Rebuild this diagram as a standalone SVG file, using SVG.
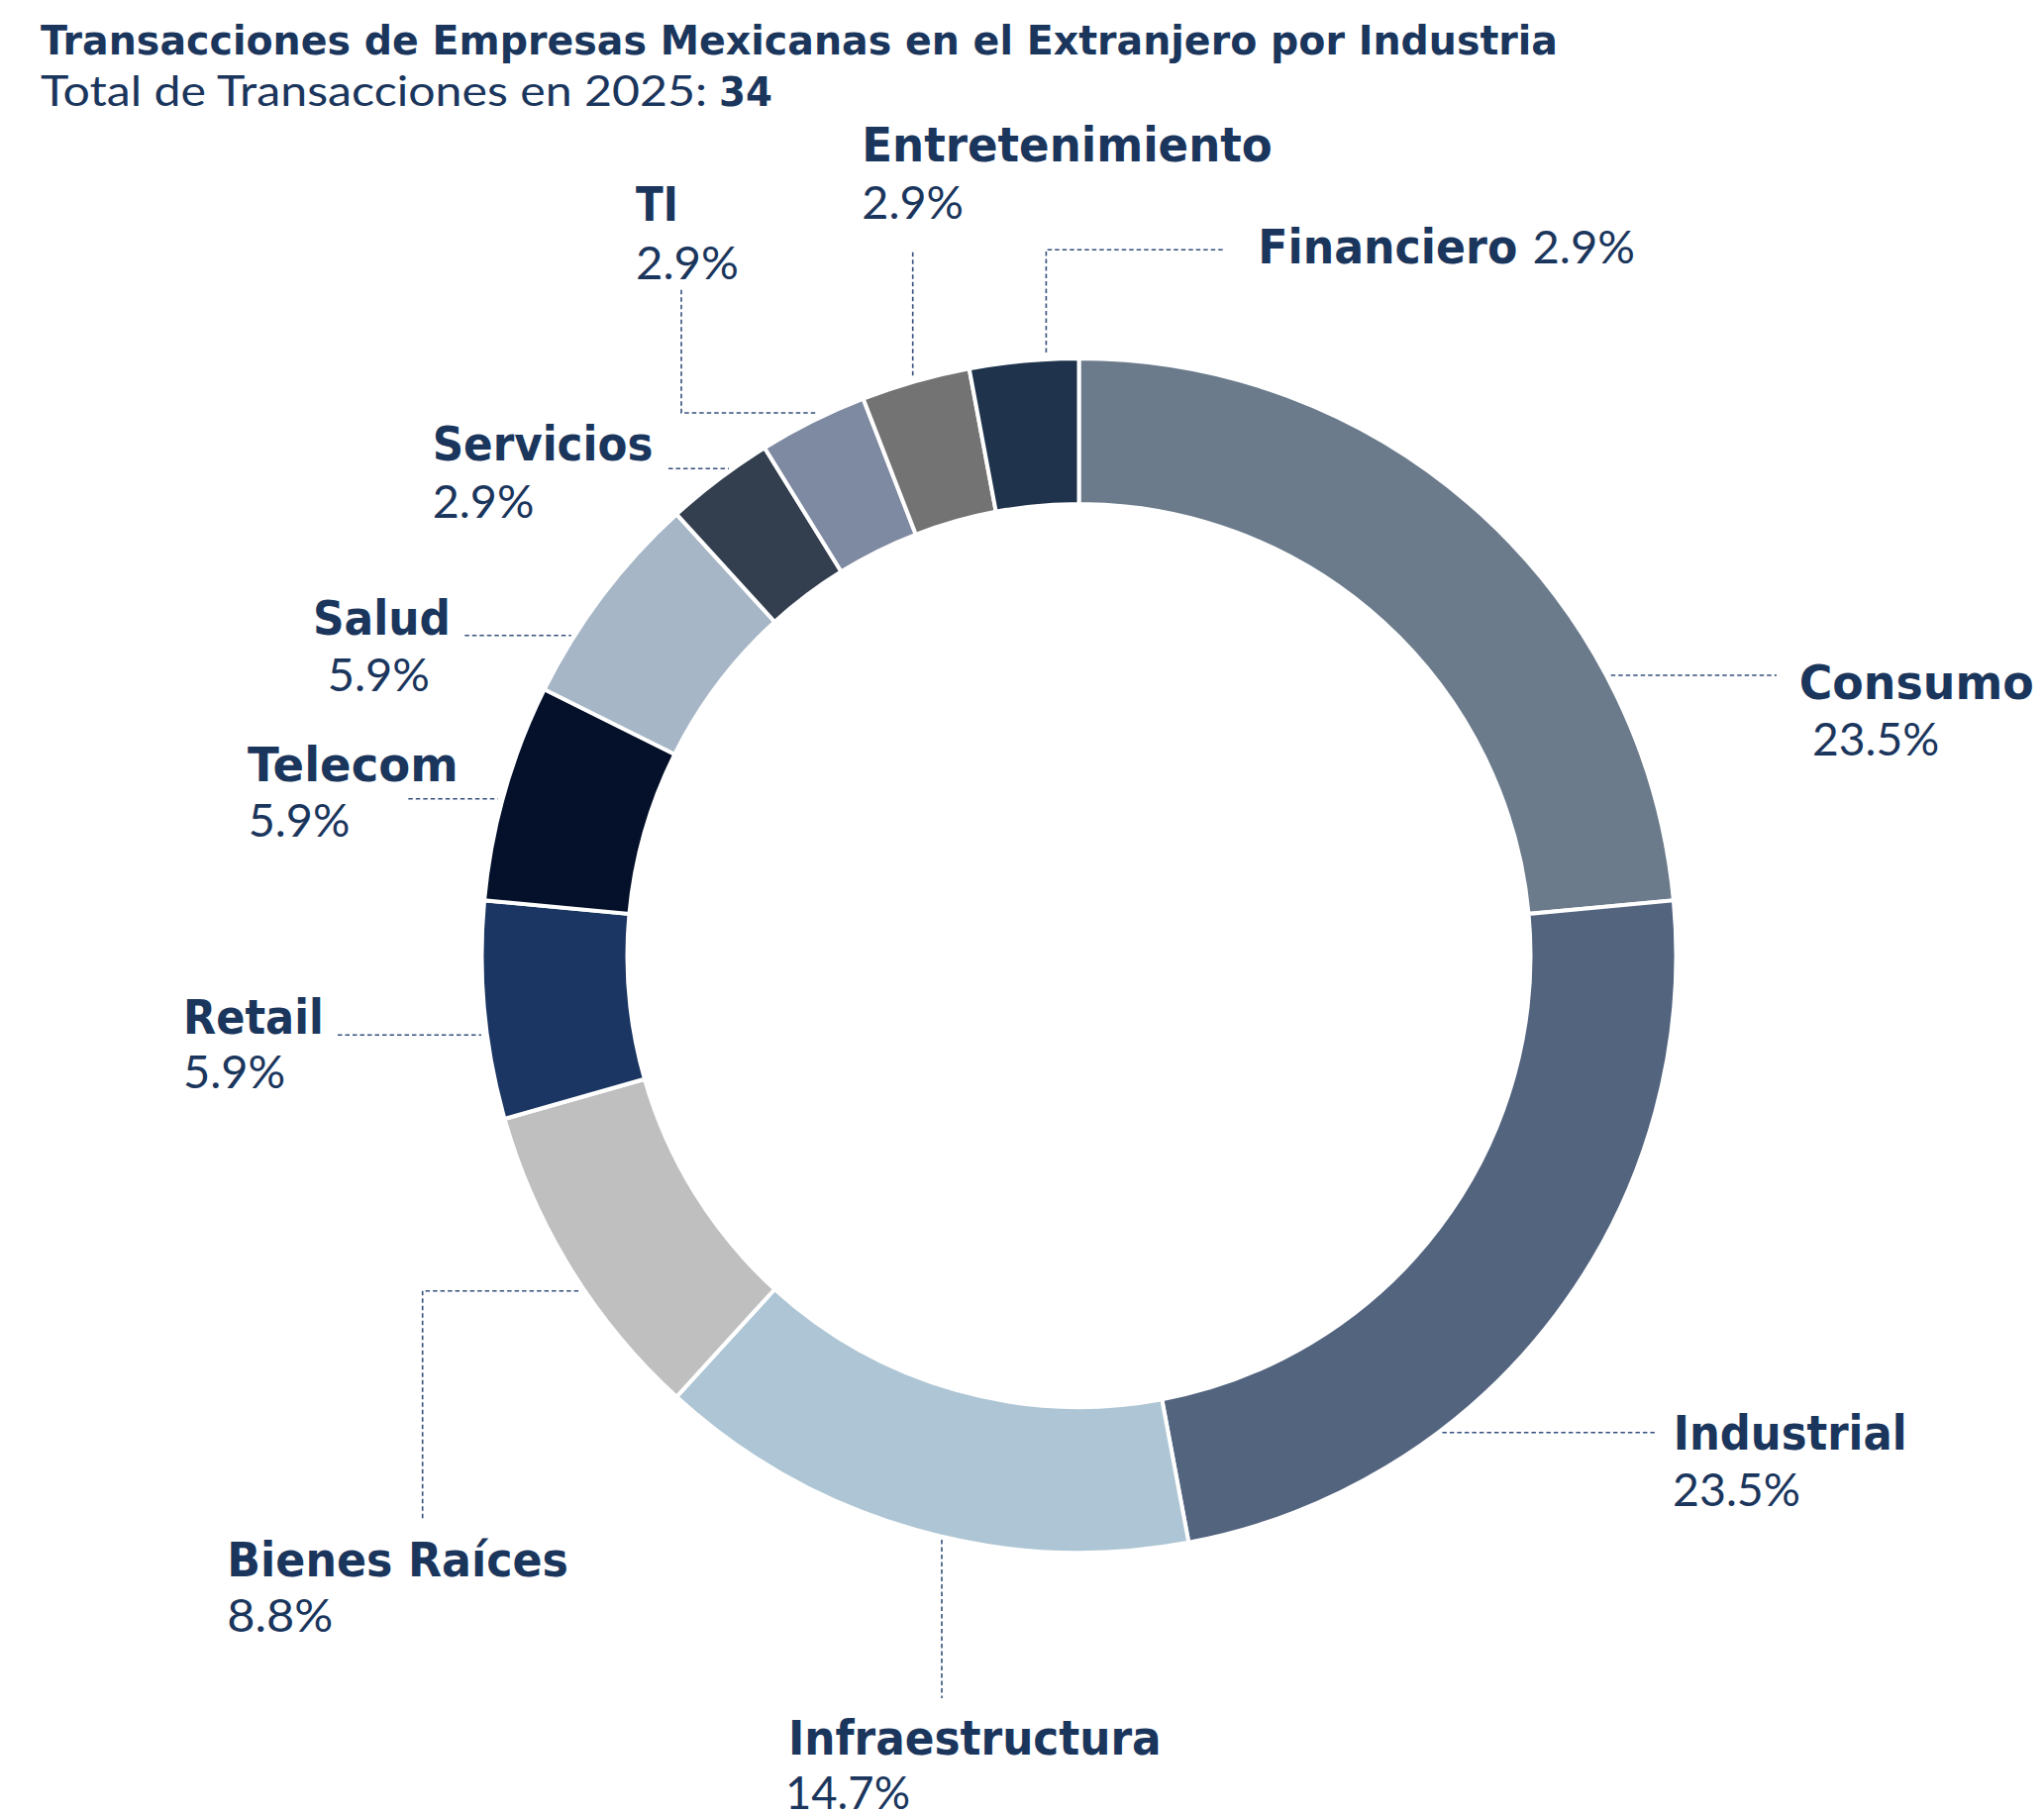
<svg xmlns="http://www.w3.org/2000/svg" width="2064" height="1832" viewBox="0 0 2064 1832">
<style>
.seg{stroke:#ffffff;stroke-width:4;stroke-linejoin:miter}
.lead{fill:none;stroke:#34507d;stroke-width:1.6;stroke-dasharray:4.5 3}
.b{font-family:"DejaVu Sans","Liberation Sans",sans-serif;font-weight:bold;fill:#1b365d}
.l{font-family:Lato,"Open Sans","Liberation Sans",sans-serif;font-weight:400;fill:#1b365d}
.lab{font-size:48px}
.pct{font-size:46px}
</style>
<rect width="2064" height="1832" fill="#ffffff"/>
<g id="title">
<text class="b" x="41" y="55" font-size="40" textLength="1532" lengthAdjust="spacingAndGlyphs">Transacciones de Empresas Mexicanas en el Extranjero por Industria</text>
<text class="l" x="41" y="107" font-size="42" font-weight="300" textLength="673" lengthAdjust="spacingAndGlyphs">Total de Transacciones en 2025:</text>
<text class="b" x="726" y="107" font-size="41" textLength="54" lengthAdjust="spacingAndGlyphs">34</text>
</g>
<g id="connectors">
<polyline class="lead" points="1056.4,356 1056.4,252.3 1236,252.3"/>
<polyline class="lead" points="921.7,379.3 921.7,252"/>
<polyline class="lead" points="688,292.7 688,417 826,417"/>
<polyline class="lead" points="675,473.3 736,473.3"/>
<polyline class="lead" points="469.3,641.7 576.7,641.7"/>
<polyline class="lead" points="412.3,806.7 502.7,806.7"/>
<polyline class="lead" points="341,1045.3 486,1045.3"/>
<polyline class="lead" points="426.7,1533.3 426.7,1303.7 586.7,1303.7"/>
<polyline class="lead" points="951,1555 951,1715"/>
<polyline class="lead" points="1456.4,1446.7 1670.9,1446.7"/>
<polyline class="lead" points="1626.7,682 1794,682"/>
</g>
<g id="consumo">
<path class="seg" fill="#6b7b8c" d="M1089.5,362 A603,603 0 0 1 1689.93,909.36 L1543.55,922.92 A456,456 0 0 0 1089.5,509 Z"/>
<text class="b lab" x="1816.7" y="706" textLength="237" lengthAdjust="spacingAndGlyphs">Consumo</text>
<text class="l pct" x="1830" y="763.3" textLength="128.3" lengthAdjust="spacingAndGlyphs">23.5%</text>
</g>
<g id="industrial">
<path class="seg" fill="#53647f" d="M1689.93,909.36 A603,603 0 0 1 1200.30,1557.73 L1173.29,1413.23 A456,456 0 0 0 1543.55,922.92 Z"/>
<text class="b lab" x="1689.8" y="1464" textLength="235.7" lengthAdjust="spacingAndGlyphs">Industrial</text>
<text class="l pct" x="1689" y="1521" textLength="129" lengthAdjust="spacingAndGlyphs">23.5%</text>
</g>
<g id="infraestructura">
<path class="seg" fill="#adc5d4" d="M1200.30,1557.73 A603,603 0 0 1 683.25,1410.63 L782.29,1301.99 A456,456 0 0 0 1173.29,1413.23 Z"/>
<text class="b lab" x="796" y="1771.7" textLength="376.7" lengthAdjust="spacingAndGlyphs">Infraestructura</text>
<text class="l pct" x="793" y="1827" textLength="126" lengthAdjust="spacingAndGlyphs">14.7%</text>
</g>
<g id="bienes-raices">
<path class="seg" fill="#bfbfbf" d="M683.25,1410.63 A603,603 0 0 1 509.52,1130.02 L650.91,1089.79 A456,456 0 0 0 782.29,1301.99 Z"/>
<text class="b lab" x="229.3" y="1591.7" textLength="344.7" lengthAdjust="spacingAndGlyphs">Bienes Raíces</text>
<text class="l pct" x="229.3" y="1648.3" textLength="107" lengthAdjust="spacingAndGlyphs">8.8%</text>
</g>
<g id="retail">
<path class="seg" fill="#1b3663" d="M509.52,1130.02 A603,603 0 0 1 489.07,909.36 L635.45,922.92 A456,456 0 0 0 650.91,1089.79 Z"/>
<text class="b lab" x="185" y="1044" textLength="141.7" lengthAdjust="spacingAndGlyphs">Retail</text>
<text class="l pct" x="185" y="1099.3" textLength="103.3" lengthAdjust="spacingAndGlyphs">5.9%</text>
</g>
<g id="telecom">
<path class="seg" fill="#05112a" d="M489.07,909.36 A603,603 0 0 1 549.72,696.21 L681.31,761.74 A456,456 0 0 0 635.45,922.92 Z"/>
<text class="b lab" x="250" y="789.3" textLength="212.7" lengthAdjust="spacingAndGlyphs">Telecom</text>
<text class="l pct" x="250.7" y="845" textLength="102.7" lengthAdjust="spacingAndGlyphs">5.9%</text>
</g>
<g id="salud">
<path class="seg" fill="#a6b6c6" d="M549.72,696.21 A603,603 0 0 1 683.25,519.37 L782.29,628.01 A456,456 0 0 0 681.31,761.74 Z"/>
<text class="b lab" x="316" y="640.7" textLength="139" lengthAdjust="spacingAndGlyphs">Salud</text>
<text class="l pct" x="330.7" y="698.3" textLength="103.3" lengthAdjust="spacingAndGlyphs">5.9%</text>
</g>
<g id="servicios">
<path class="seg" fill="#333e4f" d="M683.25,519.37 A603,603 0 0 1 772.06,452.32 L849.45,577.30 A456,456 0 0 0 782.29,628.01 Z"/>
<text class="b lab" x="436.7" y="465" textLength="222.7" lengthAdjust="spacingAndGlyphs">Servicios</text>
<text class="l pct" x="436.7" y="523.3" textLength="102.7" lengthAdjust="spacingAndGlyphs">2.9%</text>
</g>
<g id="ti">
<path class="seg" fill="#7e89a2" d="M772.06,452.32 A603,603 0 0 1 871.67,402.72 L924.77,539.79 A456,456 0 0 0 849.45,577.30 Z"/>
<text class="b lab" x="642" y="222.7" textLength="42.8" lengthAdjust="spacingAndGlyphs">TI</text>
<text class="l pct" x="642" y="281.7" textLength="104" lengthAdjust="spacingAndGlyphs">2.9%</text>
</g>
<g id="entretenimiento">
<path class="seg" fill="#737373" d="M871.67,402.72 A603,603 0 0 1 978.70,372.27 L1005.71,516.77 A456,456 0 0 0 924.77,539.79 Z"/>
<text class="b lab" x="870.3" y="163.3" textLength="414.5" lengthAdjust="spacingAndGlyphs">Entretenimiento</text>
<text class="l pct" x="870.3" y="220.7" textLength="102.7" lengthAdjust="spacingAndGlyphs">2.9%</text>
</g>
<g id="financiero">
<path class="seg" fill="#1f334c" d="M978.70,372.27 A603,603 0 0 1 1089.5,362 L1089.5,509 A456,456 0 0 0 1005.71,516.77 Z"/>
<text class="b lab" x="1270.3" y="266" textLength="262" lengthAdjust="spacingAndGlyphs">Financiero</text>
<text class="l pct" x="1547.5" y="266" textLength="103.5" lengthAdjust="spacingAndGlyphs">2.9%</text>
</g>
</svg>
